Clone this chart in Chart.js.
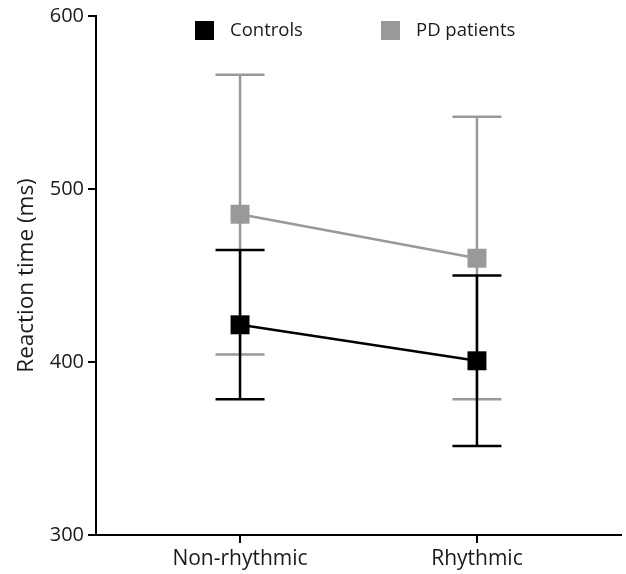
<!DOCTYPE html>
<html>
<head>
<meta charset="utf-8">
<script src="https://cdn.jsdelivr.net/npm/chart.js@4"></script>
<style>
  html, body { margin: 0; padding: 0; background: #fff; overflow: hidden; }
  #wrap { width: 626px; height: 574px; position: relative; }
</style>
</head>
<body>
<div id="wrap"><canvas id="myChart"></canvas></div>
<script>
const categories = ["Non-rhythmic", "Rhythmic"];
const yTicks = [300, 400, 500, 600];

const controlsMean = [421.5, 400.7];
const controlsUpper = [464.7, 450];
const controlsLower = [378.4, 351.4];

const patientsMean = [485.4, 460];
const patientsUpper = [566, 541.8];
const patientsLower = [404.4, 378.4];

const BLACK = "#000000";
const GREY = "#999999";
const TEXT = "#1a1a1a";
const FONT = "'Open Sans', sans-serif";

const seriesList = [
  { label: "Controls", color: BLACK, mean: controlsMean, upper: controlsUpper, lower: controlsLower },
  { label: "PD patients", color: GREY, mean: patientsMean, upper: patientsUpper, lower: patientsLower },
];

// error bars are drawn before the points, grey first so black sits on top
const errorBars = {
  id: "errorBars",
  beforeDatasetsDraw(chart) {
    const ctx = chart.ctx;
    const x = chart.scales.x;
    const y = chart.scales.y;
    ctx.save();
    ctx.lineWidth = 2.5;
    for (let s = seriesList.length - 1; s >= 0; s--) {
      const serie = seriesList[s];
      ctx.strokeStyle = serie.color;
      for (let i = 0; i < categories.length; i++) {
        const px = x.getPixelForValue(i);
        const top = y.getPixelForValue(serie.upper[i]);
        const bottom = y.getPixelForValue(serie.lower[i]);
        ctx.beginPath();
        ctx.moveTo(px, top);
        ctx.lineTo(px, bottom);
        ctx.moveTo(px - 24.5, top);
        ctx.lineTo(px + 24.5, top);
        ctx.moveTo(px - 24.5, bottom);
        ctx.lineTo(px + 24.5, bottom);
        ctx.stroke();
      }
    }
    ctx.restore();
  },
};

// legend drawn by hand so the box/text spacing matches
const squareLegend = {
  id: "squareLegend",
  afterDraw(chart) {
    const ctx = chart.ctx;
    const starts = [195, 381];
    ctx.save();
    ctx.font = "18.5px " + FONT;
    ctx.textBaseline = "middle";
    for (let i = 0; i < seriesList.length; i++) {
      ctx.fillStyle = seriesList[i].color;
      ctx.fillRect(starts[i], 21, 19, 19);
      ctx.fillStyle = TEXT;
      ctx.fillText(seriesList[i].label, starts[i] + 35, 31);
    }
    ctx.restore();
  },
};

let datasets = [];
for (let i = 0; i < seriesList.length; i++) {
  datasets.push({
    label: seriesList[i].label,
    data: seriesList[i].mean.map((v, k) => ({ x: k, y: v })),
    borderColor: seriesList[i].color,
    backgroundColor: seriesList[i].color,
    borderWidth: 2.5,
    pointStyle: "rect",
    pointRadius: 13.4,
    pointHoverRadius: 13.4,
    pointBorderWidth: 0,
  });
}

const config = {
  type: "line",
  data: { datasets: datasets },
  plugins: [errorBars, squareLegend],
  options: {
    responsive: true,
    maintainAspectRatio: false,
    animation: false,
    layout: {
      autoPadding: false,
      padding: { top: 16, right: 5, left: 0, bottom: 0 },
    },
    scales: {
      x: {
        type: "linear",
        min: -0.608,
        max: 1.608,
        afterBuildTicks: (axis) => {
          axis.ticks = categories.map((c, k) => ({ value: k }));
        },
        afterFit: (axis) => {
          axis.height = 39;
          axis.paddingLeft = 0;
          axis.paddingRight = 0;
        },
        ticks: {
          color: TEXT,
          font: { family: FONT, size: 21 },
          padding: 3,
          callback: (v) => categories[v],
        },
        grid: { drawOnChartArea: false, color: BLACK, lineWidth: 2, tickLength: 8 },
        border: { color: BLACK, width: 2 },
      },
      y: {
        min: 300,
        max: 600,
        afterBuildTicks: (axis) => {
          axis.ticks = yTicks.map((v) => ({ value: v }));
        },
        afterFit: (axis) => { axis.width = 96; },
        ticks: {
          color: TEXT,
          font: { family: FONT, size: 20 },
          padding: 4,
        },
        grid: { drawOnChartArea: false, color: BLACK, lineWidth: 2, tickLength: 8 },
        border: { color: BLACK, width: 2 },
        title: {
          display: true,
          text: "Reaction time (ms)",
          color: TEXT,
          font: { family: FONT, size: 22.5 },
          padding: { top: 13, bottom: 0 },
        },
      },
    },
    plugins: {
      legend: { display: false },
      tooltip: { enabled: false },
    },
  },
};

const myChart = new Chart(document.getElementById("myChart"), config);
</script>
</body>
</html>
